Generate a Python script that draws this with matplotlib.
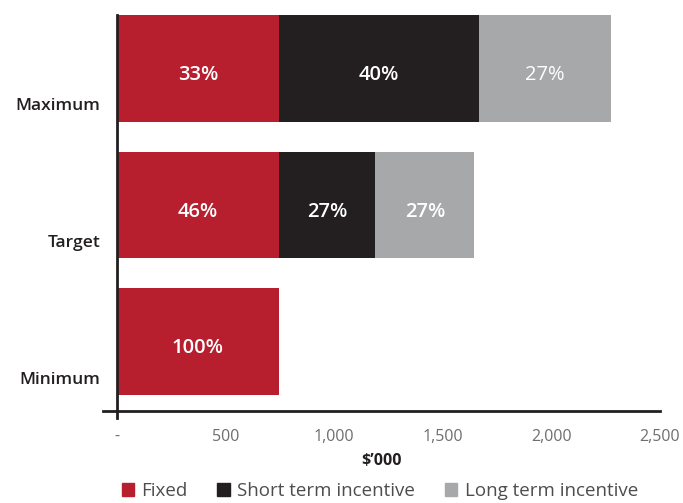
import matplotlib.pyplot as plt
from matplotlib.patches import Patch
import matplotlib.transforms as mtransforms
import numpy as np

plt.rcParams["font.family"] = ["Open Sans", "DejaVu Sans"]

CATEGORIES = ["Minimum", "Target", "Maximum"]
FIXED = [745, 745, 745]
SHORT_TERM = [0, 445, 920]
LONG_TERM = [0, 455, 610]
PCT_FIXED = ["100%", "46%", "33%"]
PCT_SHORT = ["", "27%", "40%"]
PCT_LONG = ["", "27%", "27%"]
XTICKS = [0, 500, 1000, 1500, 2000, 2500]
XTICK_LABELS = ["-", "500", "1,000", "1,500", "2,000", "2,500"]

RED = "#B71F2E"
BLACK = "#231F20"
GREY = "#A7A8AA"

fig = plt.figure(figsize=(6.83, 5.03), dpi=100)
ax = fig.add_axes([103 / 683, 92 / 503, 557 / 683, 396 / 503])

y = np.arange(len(CATEGORIES))
h = 0.78
fixed = np.array(FIXED)
sti = np.array(SHORT_TERM)
lti = np.array(LONG_TERM)

ax.barh(y, fixed, h, color=RED, label="Fixed")
ax.barh(y, sti, h, left=fixed, color=BLACK, label="Short term incentive")
ax.barh(y, lti, h, left=fixed + sti, color=GREY, label="Long term incentive")

ty = y - 0.05  # labels sit a touch below the bar centre
for i in range(len(CATEGORIES)):
    ax.text(fixed[i] / 2, ty[i], PCT_FIXED[i], color="white", ha="center",
            va="center", fontsize=14.5, fontweight="semibold")
    if sti[i]:
        ax.text(fixed[i] + sti[i] / 2, ty[i], PCT_SHORT[i], color="white",
                ha="center", va="center", fontsize=14.5, fontweight="semibold")
    if lti[i]:
        bold = "semibold" if i == 1 else "normal"
        ax.text(fixed[i] + sti[i] + lti[i] / 2, ty[i], PCT_LONG[i], color="white",
                ha="center", va="center", fontsize=14.5, fontweight=bold)
    # category labels sit low, near the bar's bottom edge
    ax.text(-75, y[i] - 0.28, CATEGORIES[i], ha="right", va="center",
            fontsize=12.5, fontweight="semibold", color="#231F20")

ax.set_xlim(-64, 2500)
ax.set_ylim(-0.51, 2.39)
ax.set_yticks([])
ax.set_xticks(XTICKS)
ax.set_xticklabels(XTICK_LABELS, fontsize=11.5, color="#6d6e70")
ax.tick_params(axis="x", length=0, pad=13)
ax.set_xlabel("$\u2019000", fontsize=11.5, fontweight="bold", color="#231F20", labelpad=6)

for s in ["top", "right"]:
    ax.spines[s].set_visible(False)
ax.spines["left"].set_position(("data", 0))
ax.spines["left"].set_linewidth(2)
ax.spines["left"].set_color(BLACK)
ax.spines["bottom"].set_linewidth(2)
ax.spines["bottom"].set_color(BLACK)

trans = mtransforms.blended_transform_factory(ax.transData, ax.transAxes)
ax.plot([0, 0], [0, -0.018], transform=trans, color=BLACK, lw=2, clip_on=False)

handles = [Patch(color=RED, label="Fixed"),
           Patch(color=BLACK, label="Short term incentive"),
           Patch(color=GREY, label="Long term incentive")]
fig.legend(handles=handles, loc="center", bbox_to_anchor=(0.556, 0.024), ncol=3,
           frameon=False, fontsize=13.5, handlelength=0.65, handleheight=0.65,
           handletextpad=0.4, columnspacing=1.6, labelcolor="#4d4d4f",
           borderpad=0)

fig.savefig("out.png", dpi=100)
